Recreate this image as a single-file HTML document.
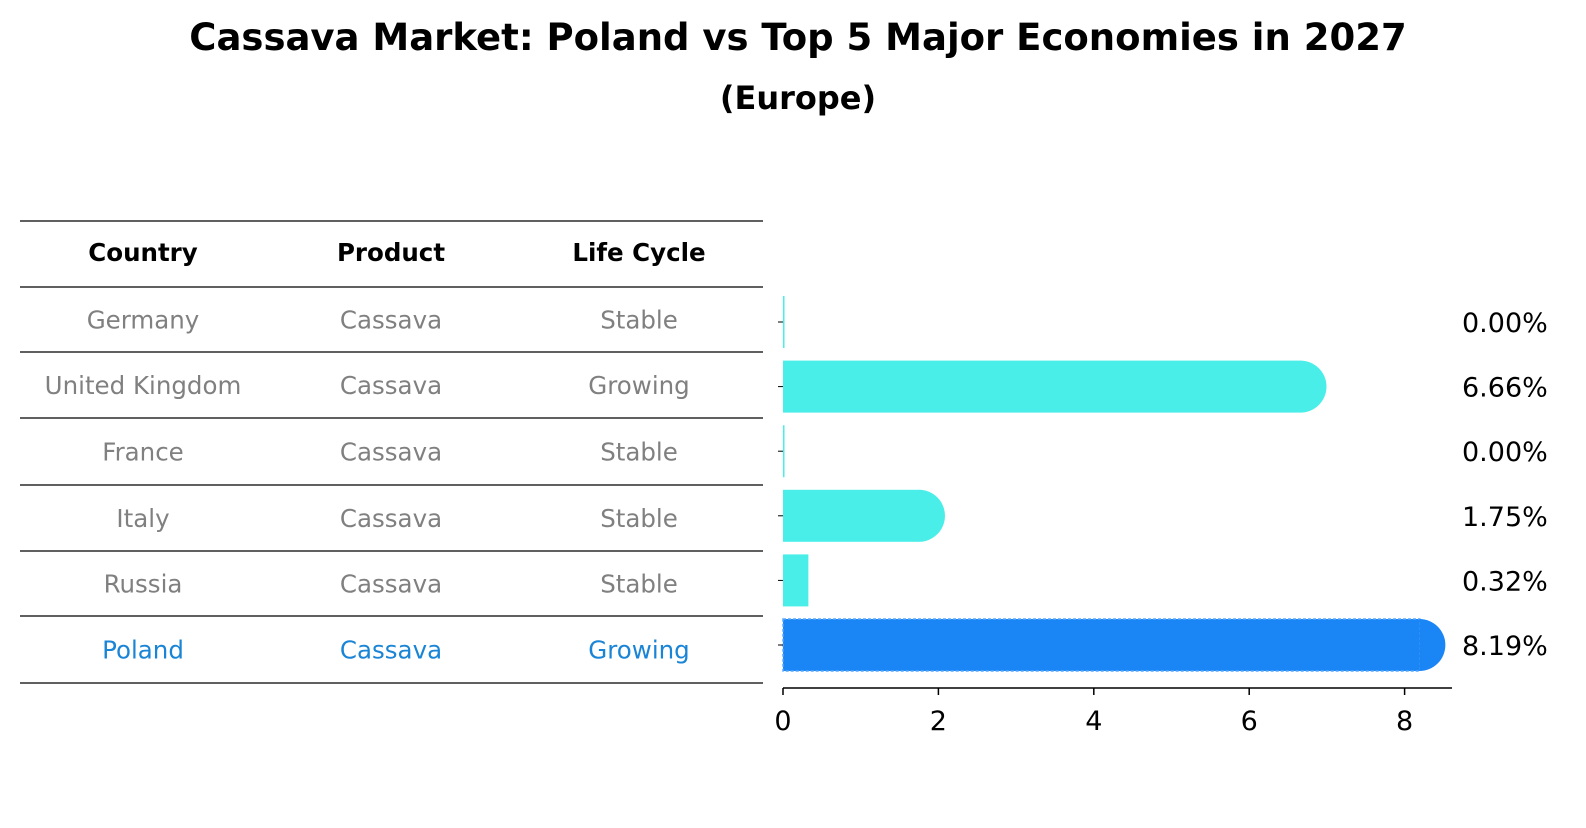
<!DOCTYPE html>
<html><head><meta charset="utf-8"><style>
body{margin:0;background:#fff;font-family:"Liberation Sans","DejaVu Sans",sans-serif}
svg text{font-family:"DejaVu Sans","Liberation Sans",sans-serif}
</style></head><body>
<svg width="1586" height="823" viewBox="0 0 1586 823">
<text x="798" y="50" text-anchor="middle" font-size="37" font-weight="bold">Cassava Market: Poland vs Top 5 Major Economies in 2027</text>
<text x="798" y="109" text-anchor="middle" font-size="32" font-weight="bold">(Europe)</text>
<g id="table"></g>
<g id="bars"></g>
</svg>
<script>
const countries=["Germany","United Kingdom","France","Italy","Russia","Poland"];
const products=["Cassava","Cassava","Cassava","Cassava","Cassava","Cassava"];
const lifeCycles=["Stable","Growing","Stable","Stable","Stable","Growing"];
const values=[0.00,6.66,0.00,1.75,0.32,8.19];
const valueLabels=["0.00%","6.66%","0.00%","1.75%","0.32%","8.19%"];
const xTicks=[0,2,4,6,8];

const NS="http://www.w3.org/2000/svg";
function mk(tag,attrs,parent){const e=document.createElementNS(NS,tag);for(const k in attrs)e.setAttribute(k,attrs[k]);parent.appendChild(e);return e;}
const table=document.getElementById('table');
const bars=document.getElementById('bars');
const x0=783, ppu=77.7;
const xs=v=>x0+v*ppu;
const rowY=i=>322+i*64.6;
const lineYs=[221,287,352,418,485,551,616,683];
lineYs.forEach((y,i)=>{
  const l=mk('line',{x1:20,x2:763,y1:y,y2:y,stroke:'#000','stroke-width':1.2},table);
  
  
});
const colX=[143,391,639];
["Country","Product","Life Cycle"].forEach((h,j)=>{
  const t=mk('text',{x:colX[j],y:261,'text-anchor':'middle','font-size':24.5,'font-weight':'bold'},table);
  t.textContent=h;
  
  
});
countries.forEach((c,i)=>{
  const cy=(lineYs[i+1]+lineYs[i+2])/2+9;
  const col=c==="Poland"?'#1a85d6':'#808080';
  [c,products[i],lifeCycles[i]].forEach((v,j)=>{
    const t=mk('text',{x:colX[j],y:cy,'text-anchor':'middle','font-size':24.5,fill:col},table);
    t.textContent=v;
    
    
  });
  const v=values[i], y=rowY(i), h=52;
  const fill=c==="Poland"?'#1a85f5':'#4aeee9';
  const w=Math.max(xs(v)-x0,1);
  const r=mk('rect',{x:x0,y:y-h/2,width:w+0.5,height:h,fill:fill},bars);
  
  
  if(c==="Poland"){r.setAttribute('stroke','#5aa8ff');r.setAttribute('stroke-dasharray','3,2');r.setAttribute('stroke-width','1.5');}
  if(v>1){
    const cap=mk('path',{d:`M${xs(v)},${y-h/2} A${h/2},${h/2} 0 0 1 ${xs(v)},${y+h/2} Z`,fill:fill},bars);
    
    
  }
  const tk=mk('line',{x1:778,x2:783,y1:y,y2:y,stroke:'#000','stroke-width':1},bars);
  
  
  const lab=mk('text',{x:1462,y:y+10,'font-size':27},bars);
  lab.textContent=valueLabels[i];
  
  
});
const ax=mk('line',{x1:x0,x2:1452,y1:688,y2:688,stroke:'#000','stroke-width':1.5},bars);


xTicks.forEach(t=>{
  const l=mk('line',{x1:xs(t),x2:xs(t),y1:688,y2:695,stroke:'#000','stroke-width':1.5},bars);
  
  
  const tx=mk('text',{x:xs(t),y:730,'text-anchor':'middle','font-size':27},bars);
  tx.textContent=t;
  
  
});
</script>
</body></html>
